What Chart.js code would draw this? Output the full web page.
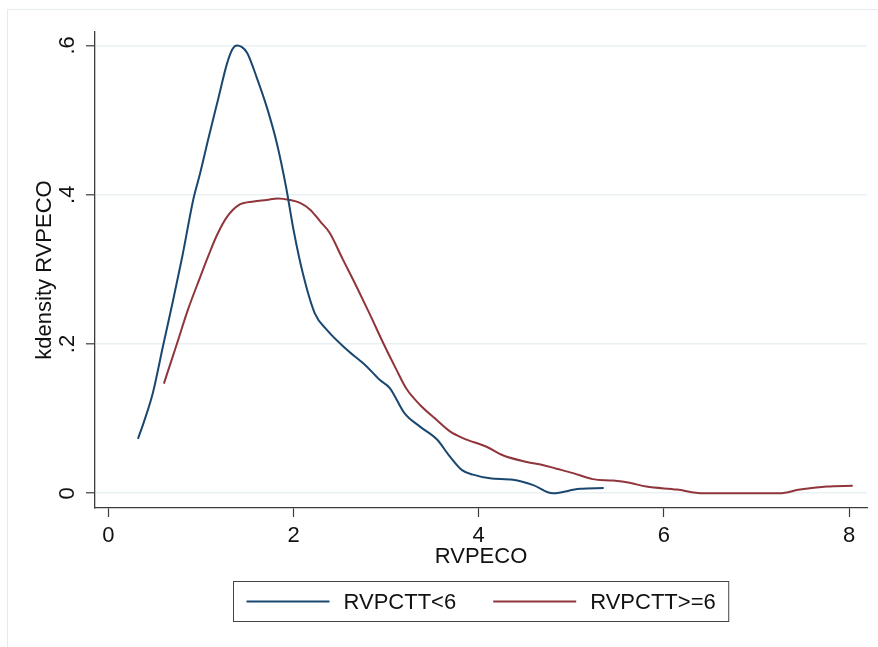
<!DOCTYPE html>
<html>
<head>
<meta charset="utf-8">
<script src="https://cdn.jsdelivr.net/npm/chart.js@4.4.1/dist/chart.umd.min.js"></script>
<style>
  html, body { margin: 0; padding: 0; background: #fff; }
  #wrap { width: 878px; height: 647px; }
</style>
</head>
<body>
<div id="wrap"><canvas id="chart" width="878" height="647"></canvas></div>
<script>
// kdensity RVPECO, RVPCTT<6
const lowX = [0.32, 0.38, 0.48, 0.59, 0.70, 0.80, 0.92, 0.99, 1.08, 1.19, 1.28, 1.34, 1.39, 1.44, 1.50, 1.60, 1.71, 1.82, 1.92, 2.00, 2.10, 2.23, 2.36, 2.58, 2.79, 2.93, 3.04, 3.20, 3.37, 3.55, 3.69, 3.82, 3.94, 4.12, 4.37, 4.59, 4.80, 5.09, 5.35];
const lowY = [0.073, 0.094, 0.134, 0.197, 0.259, 0.318, 0.395, 0.428, 0.475, 0.530, 0.575, 0.595, 0.600, 0.598, 0.590, 0.558, 0.518, 0.469, 0.410, 0.353, 0.295, 0.241, 0.219, 0.192, 0.170, 0.152, 0.141, 0.107, 0.089, 0.072, 0.049, 0.031, 0.025, 0.020, 0.018, 0.011, 0.000, 0.006, 0.007];

// kdensity RVPECO, RVPCTT>=6
const highX = [0.60, 0.74, 0.86, 0.99, 1.08, 1.17, 1.28, 1.42, 1.57, 1.71, 1.83, 1.96, 2.07, 2.18, 2.29, 2.39, 2.53, 2.68, 2.82, 2.97, 3.11, 3.22, 3.37, 3.55, 3.69, 3.83, 4.09, 4.26, 4.52, 4.69, 4.84, 5.02, 5.23, 5.45, 5.63, 5.81, 6.14, 6.42, 7.25, 7.47, 7.76, 8.04];
const highY = [0.147, 0.200, 0.246, 0.289, 0.318, 0.345, 0.370, 0.387, 0.391, 0.393, 0.395, 0.393, 0.389, 0.380, 0.364, 0.349, 0.314, 0.277, 0.241, 0.201, 0.166, 0.140, 0.118, 0.098, 0.083, 0.074, 0.062, 0.051, 0.042, 0.038, 0.033, 0.027, 0.019, 0.017, 0.014, 0.009, 0.005, 0.000, 0.000, 0.005, 0.009, 0.010];

const seriesLabels = ['RVPCTT<6', 'RVPCTT>=6'];
const xTickValues = [0, 2, 4, 6, 8];
const xTickLabels = ['0', '2', '4', '6', '8'];
const yTickValues = [0, 0.2, 0.4, 0.6];
const yTickLabels = ['0', '.2', '.4', '.6'];

const FONT = '"Liberation Sans", Arial, Helvetica, sans-serif';
const TEXT = '#111111';
const AXIS = '#3c3c3c';

function toPoints(xs, ys) {
    return xs.map((x, i) => ({ x: x, y: ys[i] }));
}

// 外枠
const framePlugin = {
    id: 'frame',
    beforeDraw(chart) {
        const ctx = chart.ctx;
        ctx.save();
        ctx.fillStyle = '#ffffff';
        ctx.fillRect(0, 0, chart.width, chart.height);
        ctx.strokeStyle = '#e4ecee';
        ctx.lineWidth = 1;
        ctx.strokeRect(7.5, 9.5, chart.width + 20, chart.height + 20);
        ctx.restore();
    }
};

// 縦軸の目盛りラベル（回転）
const yLabelPlugin = {
    id: 'yLabels',
    afterDraw(chart) {
        const ctx = chart.ctx;
        const y = chart.scales.y;
        ctx.save();
        ctx.fillStyle = TEXT;
        ctx.font = '22px ' + FONT;
        ctx.textAlign = 'center';
        ctx.textBaseline = 'middle';
        yTickValues.forEach((v, i) => {
            ctx.save();
            ctx.translate(68, y.getPixelForValue(v));
            ctx.rotate(-Math.PI / 2);
            ctx.fillText(yTickLabels[i], 0, 0);
            ctx.restore();
        });
        ctx.restore();
    }
};

// 枠付き凡例
const boxLegendPlugin = {
    id: 'boxLegend',
    afterDraw(chart) {
        const ctx = chart.ctx;
        const area = chart.chartArea;
        const sample = 83, gap = 14, itemGap = 37, pad = 13;
        ctx.save();
        ctx.font = '22px ' + FONT;
        const widths = chart.data.datasets.map(d => ctx.measureText(d.label).width);
        let total = 0;
        widths.forEach((w, i) => { total += sample + gap + w + (i > 0 ? itemGap : 0); });
        const cx = (area.left + area.right) / 2;
        const boxLeft = Math.round(cx - total / 2 - pad) + 0.5;
        const boxTop = 581.5, boxH = 40;
        ctx.strokeStyle = '#444444';
        ctx.lineWidth = 1;
        ctx.strokeRect(boxLeft, boxTop, total + 2 * pad, boxH);
        let x = boxLeft + pad;
        const midY = boxTop + boxH / 2;
        chart.data.datasets.forEach((d, i) => {
            if (i > 0) x += itemGap;
            ctx.strokeStyle = d.borderColor;
            ctx.lineWidth = 2;
            ctx.beginPath();
            ctx.moveTo(x, midY);
            ctx.lineTo(x + sample, midY);
            ctx.stroke();
            x += sample + gap;
            ctx.fillStyle = TEXT;
            ctx.textAlign = 'left';
            ctx.textBaseline = 'middle';
            ctx.fillText(d.label, x, midY + 1);
            x += widths[i];
        });
        ctx.restore();
    }
};

const ctx = document.getElementById('chart').getContext('2d');
new Chart(ctx, {
    type: 'line',
    data: {
        datasets: [
            {
                label: seriesLabels[0],
                data: toPoints(lowX, lowY),
                borderColor: '#1a476f',
                borderWidth: 2,
                pointRadius: 0,
                cubicInterpolationMode: 'monotone',
                fill: false
            },
            {
                label: seriesLabels[1],
                data: toPoints(highX, highY),
                borderColor: '#90353b',
                borderWidth: 2,
                pointRadius: 0,
                cubicInterpolationMode: 'monotone',
                fill: false
            }
        ]
    },
    options: {
        responsive: false,
        animation: false,
        layout: { padding: { top: 32, right: 11, left: 0, bottom: 0 } },
        plugins: {
            legend: { display: false },
            tooltip: { enabled: false }
        },
        scales: {
            x: {
                type: 'linear',
                min: -0.144,
                max: 8.194,
                afterFit(s) { s.height = 139; },
                afterBuildTicks(s) { s.ticks = xTickValues.map(v => ({ value: v })); },
                grid: { drawOnChartArea: false, tickLength: 9, tickColor: AXIS, tickWidth: 1.2 },
                border: { color: AXIS, width: 1.3 },
                ticks: {
                    padding: 6,
                    color: TEXT,
                    maxRotation: 0,
                    font: { family: FONT, size: 22 },
                    callback: v => xTickLabels[xTickValues.indexOf(v)]
                },
                title: {
                    display: true,
                    text: 'RVPECO',
                    color: TEXT,
                    font: { family: FONT, size: 22 },
                    padding: { top: 0, bottom: 77 }
                }
            },
            y: {
                type: 'linear',
                min: -0.0197,
                max: 0.618,
                afterFit(s) { s.width = 95; },
                afterBuildTicks(s) { s.ticks = yTickValues.map(v => ({ value: v })); },
                grid: { color: '#eaf1f3', lineWidth: 1.6, tickLength: 9, tickColor: AXIS, tickWidth: 1.2 },
                border: { color: AXIS, width: 1.3 },
                ticks: { display: false },
                title: {
                    display: true,
                    text: 'kdensity RVPECO',
                    color: TEXT,
                    font: { family: FONT, size: 22 },
                    padding: { top: 32, bottom: 0 }
                }
            }
        }
    },
    plugins: [framePlugin, yLabelPlugin, boxLegendPlugin]
});
</script>
</body>
</html>
